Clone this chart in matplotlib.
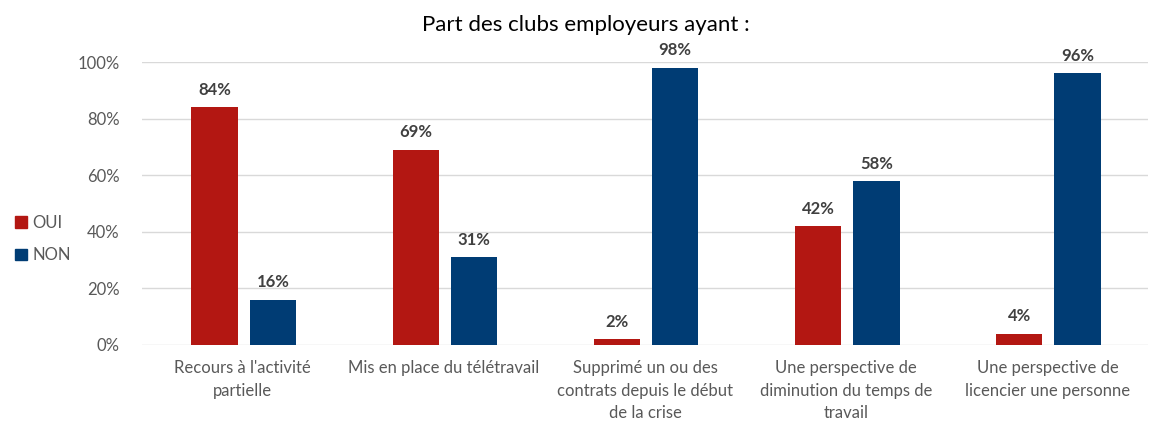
import matplotlib
matplotlib.use("Agg")
import matplotlib.pyplot as plt
import numpy as np
from matplotlib.patches import Patch

categories = [
    "Recours à l'activité\npartielle",
    "Mis en place du télétravail",
    "Supprimé un ou des\ncontrats depuis le début\nde la crise",
    "Une perspective de\ndiminution du temps de\ntravail",
    "Une perspective de\nlicencier une personne",
]
oui = [84, 69, 2, 42, 4]
non = [16, 31, 98, 58, 96]

RED = "#B31712"
BLUE = "#003C74"
GREY = "#595959"

plt.rcParams["font.family"] = ["Lato", "DejaVu Sans"]

fig = plt.figure(figsize=(11.5, 4.23), dpi=100)
ax = fig.add_axes([0.1235, 0.1844, 0.8748, 0.669])

x = np.arange(len(categories))
w = 0.23
b1 = ax.bar(x - 0.14, oui, w, color=RED, zorder=3)
b2 = ax.bar(x + 0.15, non, w, color=BLUE, zorder=3)

for bars in (b1, b2):
    for b in bars:
        h = b.get_height()
        ax.text(b.get_x() + b.get_width() / 2, h + 3.3, f"{h:.0f}%",
                ha="center", va="bottom", fontsize=12, fontweight="bold",
                color="#404040")

ax.set_xlim(-0.5, len(categories) - 0.5)
ax.set_ylim(0, 100)
ax.set_yticks(range(0, 101, 20))
ax.set_yticklabels([f"{v}%" for v in range(0, 101, 20)])
ax.set_xticks(x)
ax.set_xticklabels(categories, fontsize=12, color=GREY, linespacing=1.5)
ax.tick_params(axis="y", labelsize=12, labelcolor=GREY, length=0, pad=16)
ax.tick_params(axis="x", length=0, pad=11)
ax.grid(axis="y", color="#D9D9D9", linewidth=1, zorder=0)
for s in ax.spines.values():
    s.set_visible(False)

fig.text(0.509, 0.94, "Part des clubs employeurs ayant :", ha="center",
         va="center", fontsize=16, color="#000000")

handles = [Patch(color=RED, label="OUI"), Patch(color=BLUE, label="NON")]
fig.legend(handles=handles, loc="center left", bbox_to_anchor=(0.0, 0.435),
           frameon=False, fontsize=12, labelcolor=GREY, handlelength=0.7,
           handleheight=0.7, handletextpad=0.35, labelspacing=1.0)

fig.savefig("out.png", dpi=100)
